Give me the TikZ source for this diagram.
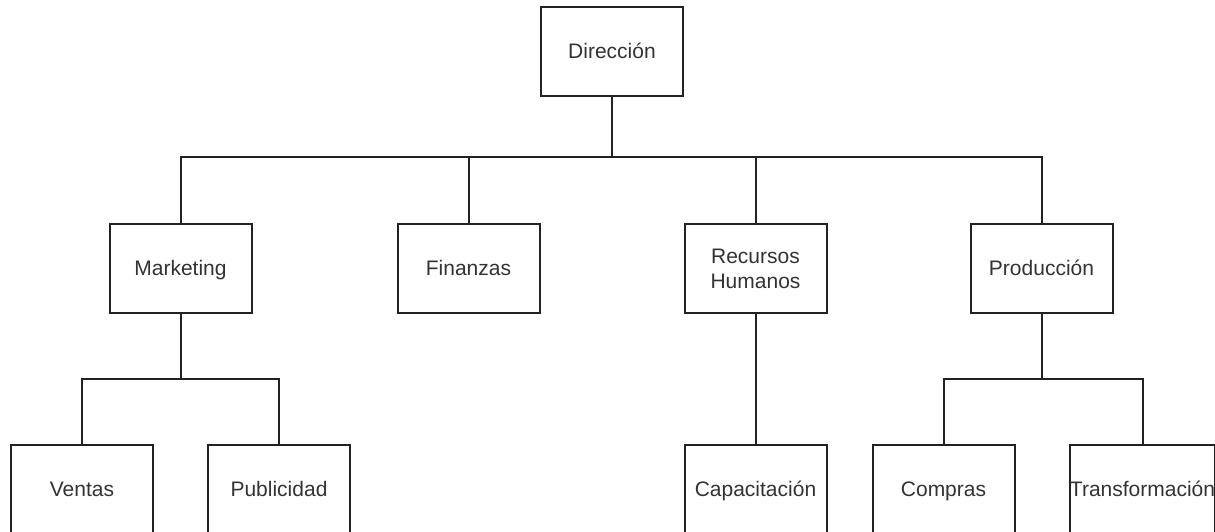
\documentclass[tikz,border=0pt]{standalone}
\usepackage{fontspec}
\setmainfont{Liberation Sans}
\definecolor{linegray}{HTML}{222222}
\definecolor{textgray}{HTML}{333333}
\tikzset{
  area/.style={draw=linegray, line width=1pt, fill=white, text=textgray,
    minimum width=71pt, minimum height=44.5pt, inner sep=0pt,
    text height=8.6pt, text depth=1.2pt,
    align=center, font=\fontsize{10.5}{12.5}\selectfont},
  link/.style={draw=linegray, line width=1pt}
}
\begin{document}
\begin{tikzpicture}[x=0.5pt, y=-0.5pt]
		\useasboundingbox (0,0) rectangle (1215,531);
		\clip (0,0) rectangle (1215,531);

		\node[area] (dir) at (612,51.5) {Dirección};

		\node[area] (mkt) at (180.5,268.5) {Marketing};
		\node[area] (fin) at (468.5,268.5) {Finanzas};
		\node[area, text height=, text depth=] (rh) at (755.5,268.5) {Recursos\\Humanos};
		\node[area] (prod) at (1041.5,268.5) {Producción};

		\node[area] (ven) at (82,489.5) {Ventas};
		\node[area] (pub) at (279,489.5) {Publicidad};
		\node[area] (cap) at (755.5,489.5) {Capacitación};
		\node[area] (com) at (943.5,489.5) {Compras};
		\node[area] (tra) at (1142.5,489.5) {Transformación};

		% bus under Dirección
		\coordinate (bus) at (612,157);
		\draw[link] (dir) -- (bus);
		\foreach \n in {mkt,fin,rh,prod}
			\draw[link] (bus) -| (\n);

		% Marketing
		\coordinate (mbus) at (180.5,379);
		\draw[link] (mkt) -- (mbus);
		\foreach \n in {ven,pub}
			\draw[link] (mbus) -| (\n);

		% Recursos Humanos
		\draw[link] (rh) -- (cap);

		% Producción
		\coordinate (pbus) at (1041.5,379);
		\draw[link] (prod) -- (pbus);
		\foreach \n in {com,tra}
			\draw[link] (pbus) -| (\n);
	\end{tikzpicture}
\end{document}
